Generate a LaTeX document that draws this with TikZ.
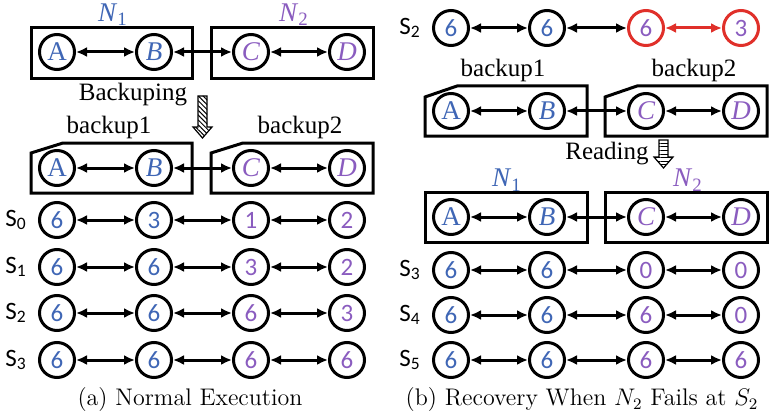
\documentclass[tikz,border=0pt]{standalone}
\usepackage{fontspec}
\usetikzlibrary{arrows.meta,positioning,patterns.meta}
\newfontfamily\calib{Carlito}
\newfontfamily\timesf{Liberation Serif}
\definecolor{NodeBlue}{HTML}{3F66B5}
\definecolor{NodePurple}{HTML}{8A5CBF}
\definecolor{FailRed}{HTML}{E0302A}
\newcommand\vlet[1]{{\timesf\fontsize{13.5}{14}\selectfont #1}}
\newcommand\vital[1]{{\timesf\itshape\fontsize{13.5}{14}\selectfont #1}}
\newcommand\nname[1]{{\timesf\fontsize{13.5}{14}\selectfont\textit{N}\textsubscript{#1}}}

\begin{document}
\begin{tikzpicture}[x=0.5pt, y=-0.5pt,
  vert/.style={circle, draw, line width=1.5pt, minimum size=17.5pt, inner sep=0pt,
               font=\calib\fontsize{12.5}{13}\selectfont},
  blu/.style={vert, text=NodeBlue},
  pur/.style={vert, text=NodePurple},
  link/.style={{Latex[length=5.5pt,width=5pt]}-{Latex[length=5.5pt,width=5pt]}, line width=1.5pt},
  grp/.style={draw, line width=1.5pt},
  lbl/.style={font=\timesf\fontsize{12.5}{14}\selectfont},
  slbl/.style={font=\calib\fontsize{12.5}{14}\selectfont},
  captxt/.style={font=\fontsize{12}{14}\selectfont}]
  \useasboundingbox (0,0) rectangle (770,417);

  % ---- (a) normal execution ----
  \node[text=NodeBlue] (ln1) at (113,15) {\nname{1}};
  \node[text=NodePurple] (ln2) at (294,15) {\nname{2}};
  \foreach \g/\y in {t/52, k/168} {
    \node[blu] (\g a) at (57,\y) {\vlet{A}};
    \node[blu] (\g b) at (154,\y) {\vital{B}};
    \node[pur] (\g c) at (251,\y) {\vital{C}};
    \node[pur] (\g d) at (347,\y) {\vital{D}};
  }
  \draw[grp] (31,28) rectangle (192,79);
  \draw[grp] (211,28) rectangle (373,79);
  \draw[grp] (31,153) -- (63,143) -- (192,143) -- (192,193) -- (31,193) -- cycle;
  \draw[grp] (211,153) -- (243,143) -- (373,143) -- (373,193) -- (211,193) -- cycle;
  \foreach \g in {t,k}
    \foreach \p/\q in {a/b,b/c,c/d}
      \draw[link] (\g\p) -- (\g\q);

  \node[lbl] (bkp) at (133,95) {Backuping};
  \draw[line width=0.6pt, pattern={Lines[angle=-45,distance=1.7pt,line width=0.5pt]}]
    (198,96) -- (207,96) -- (207,127) -- (212,127) -- (202.5,138) -- (193,127) -- (198,127) -- cycle;
  \node[lbl] (lb1) at (109,127) {backup1};
  \node[lbl] (lb2) at (300,127) {backup2};

  \foreach \r/\y/\va/\vb/\vc/\vd in {0/220/6/3/1/2, 1/267/6/6/3/2, 2/313/6/6/6/3, 3/360/6/6/6/6} {
    \node[slbl] (ls\r) at (16,\y) {S\textsubscript{\r}};
    \node[blu] (l\r a) at (57,\y) {\va};
    \node[blu] (l\r b) at (154,\y) {\vb};
    \node[pur] (l\r c) at (251,\y) {\vc};
    \node[pur] (l\r d) at (347,\y) {\vd};
    \draw[link] (l\r a) -- (l\r b);
    \draw[link] (l\r b) -- (l\r c);
    \draw[link] (l\r c) -- (l\r d);
  }
  \node[captxt] (capa) at (190,400) {(a) Normal Execution};

  % ---- (b) recovery ----
  \node[slbl] (rs2) at (410,28) {S\textsubscript{2}};
  \node[blu] (fa) at (451,28) {6};
  \node[blu] (fb) at (547,28) {6};
  \node[pur, draw=FailRed] (fc) at (646,28) {6};
  \node[pur, draw=FailRed] (fd) at (741,28) {3};
  \draw[link] (fa) -- (fb);
  \draw[link] (fb) -- (fc);
  \draw[link, draw=FailRed, fill=FailRed] (fc) -- (fd);

  \node[lbl] (rb1) at (503,70) {backup1};
  \node[lbl] (rb2) at (694,70) {backup2};
  \foreach \g/\y in {u/111, n/217} {
    \node[blu] (\g a) at (451,\y) {\vlet{A}};
    \node[blu] (\g b) at (547,\y) {\vital{B}};
    \node[pur] (\g c) at (646,\y) {\vital{C}};
    \node[pur] (\g d) at (741,\y) {\vital{D}};
  }
  \draw[grp] (425,97) -- (457,86) -- (587,86) -- (587,136) -- (425,136) -- cycle;
  \draw[grp] (605,97) -- (637,86) -- (767,86) -- (767,136) -- (605,136) -- cycle;
  \draw[grp] (425,192) rectangle (587,242);
  \draw[grp] (605,192) rectangle (767,242);
  \foreach \g in {u,n}
    \foreach \p/\q in {a/b,b/c,c/d}
      \draw[link] (\g\p) -- (\g\q);

  \node[lbl] (rdg) at (607,154) {Reading};
  \draw[line width=0.6pt, pattern={Lines[angle=0,distance=1.8pt,line width=0.5pt]}]
    (659,140) -- (668,140) -- (668,157) -- (673,157) -- (663.5,168) -- (654,157) -- (659,157) -- cycle;
  \node[text=NodeBlue] (rn1) at (507,180) {\nname{1}};
  \node[text=NodePurple] (rn2) at (688,180) {\nname{2}};

  \foreach \r/\y/\vc/\vd in {3/270/0/0, 4/315/6/0, 5/360/6/6} {
    \node[slbl] (rs\r) at (410,\y) {S\textsubscript{\r}};
    \node[blu] (r\r a) at (451,\y) {6};
    \node[blu] (r\r b) at (547,\y) {6};
    \node[pur] (r\r c) at (646,\y) {\vc};
    \node[pur] (r\r d) at (741,\y) {\vd};
    \draw[link] (r\r a) -- (r\r b);
    \draw[link] (r\r b) -- (r\r c);
    \draw[link] (r\r c) -- (r\r d);
  }
  \node[captxt] (capb) at (582,400) {(b) Recovery When $N_2$ Fails at $S_2$};
\end{tikzpicture}
\end{document}
